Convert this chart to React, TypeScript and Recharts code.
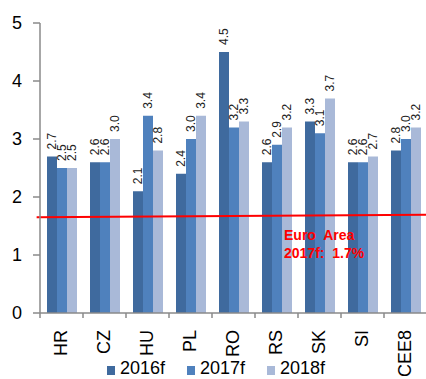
import React from 'react';
import {
  BarChart,
  Bar,
  XAxis,
  YAxis,
  ReferenceLine,
  LabelList,
} from 'recharts';

// Real GDP growth forecasts, % y/y
const countries = ['HR', 'CZ', 'HU', 'PL', 'RO', 'RS', 'SK', 'SI', 'CEE8'];
const gdp2016 = [2.7, 2.6, 2.1, 2.4, 4.5, 2.6, 3.3, 2.6, 2.8];
const gdp2017 = [2.5, 2.6, 3.4, 3.0, 3.2, 2.9, 3.1, 2.6, 3.0];
const gdp2018 = [2.5, 3.0, 2.8, 3.4, 3.3, 3.2, 3.7, 2.7, 3.2];
const yTicks = [0, 1, 2, 3, 4, 5];

// Euro Area benchmark line (runs across the whole plot)
const euroAreaStart = 1.65;
const euroArea2017 = 1.7;

const seriesKeys = ['s2016', 's2017', 's2018'];
const seriesNames = ['2016f', '2017f', '2018f'];
const seriesColors = ['#3f6a9e', '#4f81bd', '#a9b9d8'];

const data = countries.map((c, i) => ({
  country: c,
  s2016: gdp2016[i],
  s2017: gdp2017[i],
  s2018: gdp2018[i],
}));

const FONT = '"Liberation Sans", Arial, sans-serif';
const AXIS_GREY = '#8a8a8a';

const CategoryTick = (props: any) => {
  const { x, y, payload } = props;
  const half = payload && payload.offset ? payload.offset : 21.5;
  return (
    <g>
      <line x1={x - half} y1={y} x2={x - half} y2={y + 5} stroke={AXIS_GREY} strokeWidth={1.5} />
      <text
        transform={`translate(${x - 1},${y + 17}) rotate(-90)`}
        textAnchor="end"
        dominantBaseline="central"
        fontFamily={FONT}
        fontSize={18}
        fill="#000"
      >
        {payload.value}
      </text>
    </g>
  );
};

const BarValueLabel = (props: any) => {
  const { x, y, width, value } = props;
  const cx = Number(x) + Number(width) / 2;
  const cy = Number(y) - 7;
  return (
    <text
      transform={`translate(${cx},${cy}) rotate(-90)`}
      textAnchor="start"
      dominantBaseline="central"
      fontFamily={FONT}
      fontSize={12}
      fill="#222"
    >
      {Number(value).toFixed(1)}
    </text>
  );
};

export default function App() {
  return (
    <div
      style={{
        position: 'absolute',
        left: 0,
        top: 0,
        width: 426,
        height: 379,
        overflow: 'hidden',
        background: '#fff',
      }}
    >
      <BarChart
        width={430}
        height={379}
        data={data}
        margin={{ top: 23, right: 3, left: 0, bottom: 6 }}
        barCategoryGap={7}
        barGap={0}
      >
        <XAxis
          dataKey="country"
          type="category"
          height={60}
          interval={0}
          tickSize={0}
          tickMargin={0}
          tickLine={false}
          axisLine={{ stroke: AXIS_GREY, strokeWidth: 1.5 }}
          tick={<CategoryTick />}
        />
        <XAxis xAxisId="line" type="number" domain={[0, 9]} hide />
        <YAxis
          width={40}
          domain={[0, 5]}
          ticks={yTicks}
          interval={0}
          tickSize={7}
          tickMargin={11}
          axisLine={{ stroke: AXIS_GREY, strokeWidth: 1.5 }}
          tickLine={{ stroke: AXIS_GREY, strokeWidth: 1.5 }}
          tick={{ fontFamily: FONT, fontSize: 18, fill: '#000' }}
        />
        {seriesKeys.map((k, i) => (
          <Bar key={k} dataKey={k} name={seriesNames[i]} fill={seriesColors[i]} isAnimationActive={false}>
            <LabelList dataKey={k} content={<BarValueLabel />} />
          </Bar>
        ))}
        <ReferenceLine
          xAxisId="line"
          segment={[
            { x: -0.07, y: euroAreaStart },
            { x: 9, y: euroArea2017 },
          ]}
          stroke="#ff0000"
          strokeWidth={2}
          ifOverflow="visible"
        />
      </BarChart>

      {/* Euro Area annotation */}
      <div
        style={{
          position: 'absolute',
          left: 284,
          top: 227,
          fontFamily: FONT,
          fontSize: 14,
          fontWeight: 'bold',
          color: '#ff0000',
          lineHeight: '17.5px',
          whiteSpace: 'pre',
        }}
      >
        <div>{'Euro  Area'}</div>
        <div>{`2017f:  ${euroArea2017.toFixed(1)}%`}</div>
      </div>

      {/* Series legend */}
      <div
        style={{
          position: 'absolute',
          left: 107,
          top: 358,
          display: 'flex',
          fontFamily: FONT,
          fontSize: 18,
          lineHeight: '20px',
          color: '#000',
        }}
      >
        {seriesNames.map((n, i) => (
          <div key={n} style={{ width: 80, display: 'flex', alignItems: 'flex-end' }}>
            <span
              style={{
                display: 'inline-block',
                width: 8,
                height: 9,
                background: seriesColors[i],
                marginRight: 5,
                marginBottom: 3,
              }}
            />
            <span>{n}</span>
          </div>
        ))}
      </div>
    </div>
  );
}
